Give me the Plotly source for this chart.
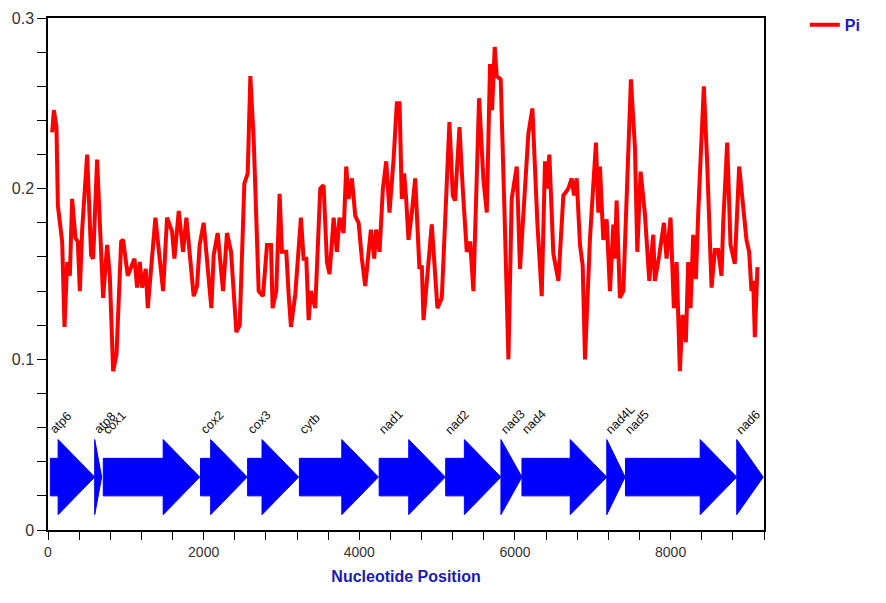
import plotly.graph_objects as go

# Sliding-window nucleotide diversity (Pi)
pos = [54, 75, 109, 127, 182, 212, 246, 281, 310, 353, 383, 409, 439, 503, 554, 580, 631, 708, 760, 794,
       837, 880, 940, 965, 1025, 1081, 1111, 1145, 1179, 1209, 1256, 1282, 1380, 1479, 1530, 1594, 1624, 1680,
       1735, 1778, 1821, 1872, 1915, 1949, 2000, 2044, 2099, 2129, 2180, 2249, 2300, 2352, 2420, 2463, 2523,
       2566, 2600, 2643, 2707, 2762, 2814, 2865, 2886, 2933, 2976, 3006, 3062, 3092, 3122, 3177, 3250, 3284,
       3319, 3349, 3378, 3434, 3498, 3541, 3584, 3618, 3670, 3712, 3746, 3798, 3832, 3862, 3905, 3948, 3991,
       4033, 4076, 4149, 4192, 4217, 4260, 4303, 4346, 4388, 4440, 4482, 4517, 4546, 4576, 4602, 4632, 4675,
       4718, 4773, 4803, 4825, 4867, 4931, 5004, 5060, 5158, 5201, 5231, 5287, 5329, 5381, 5424, 5466, 5539,
       5595, 5638, 5680, 5706, 5740, 5766, 5817, 5873, 5916, 5958, 6023, 6065, 6172, 6224, 6288, 6344, 6386,
       6408, 6442, 6493, 6558, 6622, 6686, 6729, 6759, 6793, 6836, 6870, 6900, 6964, 7041, 7071, 7092, 7135,
       7178, 7221, 7264, 7285, 7306, 7349, 7392, 7490, 7542, 7572, 7614, 7670, 7726, 7777, 7798, 7854, 7914,
       7948, 7999, 8042, 8077, 8119, 8153, 8196, 8226, 8256, 8290, 8325, 8355, 8427, 8470, 8526, 8569, 8611,
       8654, 8676, 8727, 8770, 8825, 8881, 8932, 8975, 9009, 9039, 9061, 9082, 9116]
pi = [0.233, 0.246, 0.236, 0.190, 0.169, 0.119, 0.157, 0.149, 0.194, 0.171, 0.169, 0.140, 0.176, 0.220,
      0.161, 0.159, 0.217, 0.136, 0.167, 0.149, 0.093, 0.103, 0.169, 0.170, 0.149, 0.155, 0.159, 0.142,
      0.157, 0.142, 0.153, 0.130, 0.183, 0.140, 0.183, 0.175, 0.159, 0.187, 0.163, 0.183, 0.161, 0.137,
      0.143, 0.167, 0.180, 0.155, 0.130, 0.161, 0.174, 0.140, 0.174, 0.163, 0.116, 0.120, 0.203, 0.209,
      0.266, 0.229, 0.140, 0.137, 0.167, 0.167, 0.130, 0.140, 0.197, 0.163, 0.163, 0.138, 0.119, 0.138,
      0.183, 0.159, 0.159, 0.123, 0.140, 0.130, 0.200, 0.202, 0.157, 0.150, 0.183, 0.163, 0.183, 0.174,
      0.213, 0.194, 0.206, 0.184, 0.180, 0.159, 0.143, 0.176, 0.159, 0.176, 0.163, 0.200, 0.216, 0.186,
      0.217, 0.250, 0.250, 0.194, 0.209, 0.194, 0.170, 0.186, 0.206, 0.153, 0.155, 0.123, 0.147, 0.179,
      0.130, 0.136, 0.239, 0.196, 0.193, 0.236, 0.200, 0.163, 0.169, 0.140, 0.253, 0.205, 0.186, 0.273,
      0.246, 0.283, 0.266, 0.264, 0.174, 0.100, 0.194, 0.213, 0.153, 0.232, 0.247, 0.180, 0.137, 0.216,
      0.200, 0.220, 0.162, 0.146, 0.196, 0.200, 0.206, 0.196, 0.206, 0.167, 0.155, 0.100, 0.171, 0.227,
      0.186, 0.213, 0.170, 0.182, 0.140, 0.179, 0.159, 0.193, 0.136, 0.140, 0.264, 0.224, 0.163, 0.210,
      0.185, 0.146, 0.173, 0.146, 0.161, 0.180, 0.159, 0.183, 0.130, 0.157, 0.093, 0.126, 0.110, 0.157,
      0.130, 0.173, 0.147, 0.186, 0.260, 0.215, 0.142, 0.164, 0.164, 0.149, 0.180, 0.227, 0.167, 0.156,
      0.213, 0.190, 0.170, 0.163, 0.140, 0.146, 0.113, 0.154]

# Gene map
gene_names = ["atp6", "atp8", "cox1", "cox2", "cox3", "cytb", "nad1", "nad2", "nad3", "nad4",
              "nad4L", "nad5", "nad6"]
gene_start = [30, 600, 710, 1960, 2565, 3230, 4255, 5110, 5820, 6090, 7180, 7420, 8850]
gene_end = [600, 690, 1950, 2560, 3220, 4245, 5105, 5820, 6090, 7180, 7415, 8850, 9190]

y_ticks = [0, 0.1, 0.2, 0.3]
y_ticklabels = ["0", "0.1", "0.2", "0.3"]

HEAD = 470
CY, SH, HH = 0.031, 0.011, 0.022

fig = go.Figure()
fig.add_trace(go.Scatter(x=pos, y=pi, mode="lines", name="<b>Pi</b>",
                         line=dict(color="#FF0000", width=4)))

for name, s, e in zip(gene_names, gene_start, gene_end):
    h = min(HEAD, e - s)
    hs = e - h
    xs = [s, hs, hs, e, hs, hs, s, s]
    ys = [CY - SH, CY - SH, CY - HH, CY, CY + HH, CY + SH, CY + SH, CY - SH]
    if hs == s:
        xs = [s, s, e, s]
        ys = [CY - HH, CY + HH, CY, CY - HH]
    fig.add_trace(go.Scatter(x=xs, y=ys, mode="lines", fill="toself", fillcolor="#0000FF",
                             line=dict(color="#0000FF", width=1), showlegend=False,
                             hoverinfo="skip"))
    fig.add_annotation(x=s, y=0.053, text=name, showarrow=False, textangle=-45,
                       xanchor="left", yanchor="bottom", xref="x", yref="y", xshift=-6,
                       font=dict(family="Liberation Sans, Arial", size=12.5, color="#111111"))

narrow = "Liberation Sans Narrow, Arial Narrow, Liberation Sans, Arial"
fig.update_layout(
    width=886, height=603,
    margin=dict(l=40, r=130, t=10, b=81, autoexpand=False),
    paper_bgcolor="white", plot_bgcolor="white",
    showlegend=True,
    legend=dict(x=1.057, y=1.02, xanchor="left", yanchor="top",
                font=dict(family="Liberation Sans, Arial", size=16, color="#1a1acc"),
                bgcolor="rgba(0,0,0,0)", itemwidth=30),
    xaxis=dict(range=[0, 9200], tick0=0, dtick=2000, showgrid=False, zeroline=False,
               showline=True, linecolor="black", linewidth=1.5, mirror=True,
               ticks="outside", ticklen=8, tickcolor="black", tickwidth=1, automargin=False,
               minor=dict(dtick=400, ticks="outside", ticklen=8, tickcolor="black"),
               tickfont=dict(family=narrow, size=14, color="#333333"),
               title=dict(text="<b>Nucleotide Position</b>", standoff=12,
                          font=dict(family=narrow, size=16, color="#1a1ab4"))),
    yaxis=dict(range=[0, 0.3], tickmode="array", tickvals=y_ticks, ticktext=y_ticklabels,
               showgrid=False, zeroline=False, ticklabeloverflow="allow",
               showline=True, linecolor="black", linewidth=1.5, mirror=True,
               ticks="outside", ticklen=9, tickcolor="black", tickwidth=1, automargin=False,
               minor=dict(tick0=0, dtick=0.02, ticks="outside", ticklen=9, tickcolor="black"),
               tickfont=dict(family="Liberation Sans, Arial", size=16, color="#333333")),
)

fig.write_html("out.html")
